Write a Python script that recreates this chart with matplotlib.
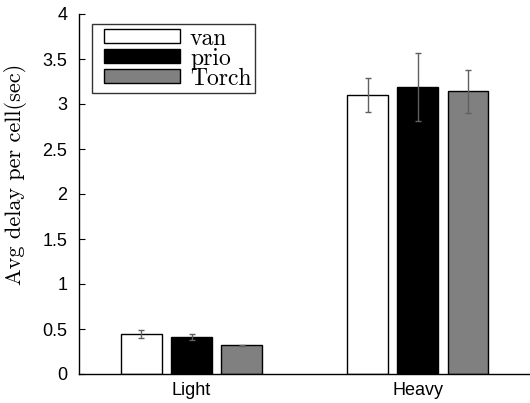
import matplotlib
matplotlib.use("Agg")
import matplotlib.pyplot as plt
from matplotlib.container import BarContainer
from matplotlib.legend_handler import HandlerPatch, update_from_first_child
import numpy as np

categories = ["Light", "Heavy"]
series = ["van", "prio", "Torch"]
van = [0.445, 3.10]
prio = [0.41, 3.19]
torch = [0.32, 3.14]
van_err = [0.04, 0.19]
prio_err = [0.03, 0.375]
torch_err = [0.006, 0.235]
colors = ["white", "black", "#808080"]

fig = plt.figure(figsize=(5.3, 4.03), dpi=100)
ax = fig.add_axes([78.5 / 530, 29 / 403, 452.4 / 530, 360 / 403])

x = np.arange(1, len(categories) + 1)
width = 0.181
offset = 0.222
vals = [van, prio, torch]
errs = [van_err, prio_err, torch_err]
for i, (name, v, e, c) in enumerate(zip(series, vals, errs, colors)):
    ax.bar(x + (i - 1) * offset, v, width, color=c, edgecolor="black",
           linewidth=1.0, label=name, zorder=2)
    ax.errorbar(x + (i - 1) * offset, v, yerr=e, fmt="none",
                ecolor="#606060", elinewidth=1.0, capsize=2.5, capthick=1.0,
                zorder=3)

ax.set_xlim(0.5, 2.5)
ax.set_ylim(0, 4)
ax.set_yticks(np.arange(0, 4.01, 0.5))
ax.set_yticklabels(["0", "0.5", "1", "1.5", "2", "2.5", "3", "3.5", "4"])
ax.set_xticks(x)
ax.set_xticklabels(categories)
for s in ["top", "right"]:
    ax.spines[s].set_visible(False)
for s in ["left", "bottom"]:
    ax.spines[s].set_linewidth(1.0)
ax.tick_params(axis="y", direction="in", length=4, labelsize=13, pad=8)
ax.tick_params(axis="x", length=0, labelsize=13, pad=6)
for lab in ax.get_xticklabels() + ax.get_yticklabels():
    lab.set_fontfamily("Liberation Sans")

ax.set_ylabel("Avg delay per cell(sec)", fontfamily="cmr10", fontsize=16)
ax.yaxis.set_label_coords(-0.113, 0.555)

fs = 17
leg = ax.legend(loc="upper left", bbox_to_anchor=(13 / 452.4, 350 / 360),
                prop={"family": "cmr10", "size": fs},
                frameon=True, fancybox=False, edgecolor="black",
                handlelength=3.6, handleheight=0.51, handletextpad=0.42,
                labelspacing=-0.09, borderpad=0.15, borderaxespad=0,
                handler_map={BarContainer: HandlerPatch(
                    xpad=0.38, update_func=update_from_first_child)})
leg.get_frame().set_linewidth(1.0)

fig.savefig("out.png", dpi=100)
